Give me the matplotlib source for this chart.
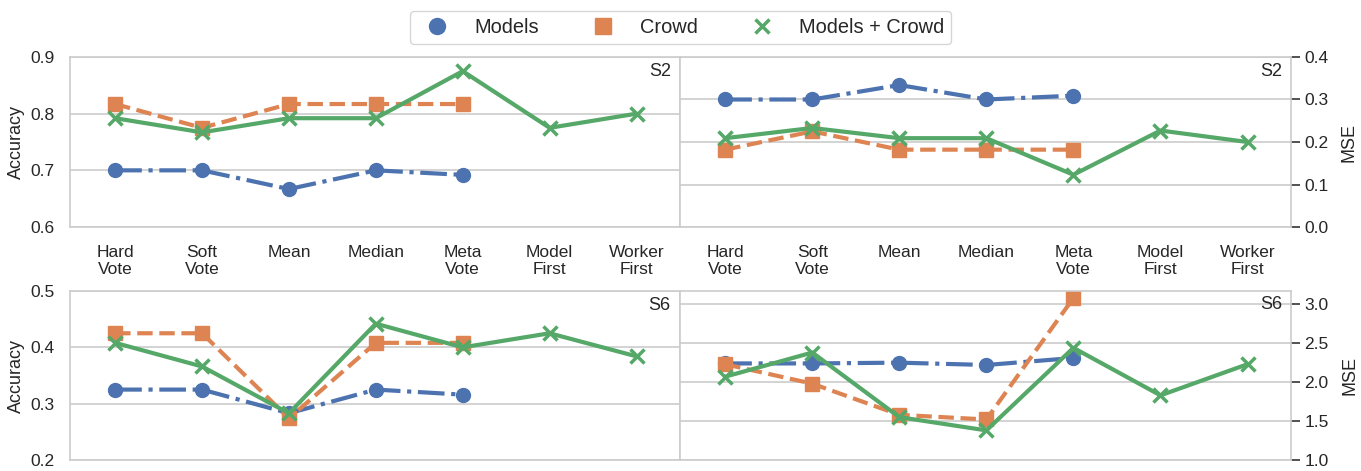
import numpy as np
import matplotlib
matplotlib.use('Agg')
import matplotlib.pyplot as plt
import seaborn as sns

sns.set_style('whitegrid')
plt.rcParams['font.family'] = ['Liberation Sans', 'DejaVu Sans']

categories = ['Hard\nVote', 'Soft\nVote', 'Mean', 'Median', 'Meta\nVote', 'Model\nFirst', 'Worker\nFirst']

# S2 accuracy
s2_acc_models = [0.700, 0.700, 0.667, 0.700, 0.692]
s2_acc_crowd = [0.817, 0.775, 0.817, 0.817, 0.817]
s2_acc_both = [0.792, 0.767, 0.792, 0.792, 0.875, 0.775, 0.800]
# S2 MSE
s2_mse_models = [0.300, 0.300, 0.334, 0.300, 0.309]
s2_mse_crowd = [0.182, 0.225, 0.182, 0.182, 0.182]
s2_mse_both = [0.209, 0.233, 0.209, 0.209, 0.123, 0.227, 0.200]
# S6 accuracy
s6_acc_models = [0.325, 0.325, 0.283, 0.325, 0.316]
s6_acc_crowd = [0.425, 0.425, 0.274, 0.408, 0.408]
s6_acc_both = [0.408, 0.366, 0.283, 0.442, 0.400, 0.425, 0.384]
# S6 MSE
s6_mse_models = [2.24, 2.24, 2.25, 2.22, 2.31]
s6_mse_crowd = [2.23, 1.98, 1.58, 1.52, 3.08]
s6_mse_both = [2.07, 2.38, 1.55, 1.38, 2.44, 1.83, 2.23]

c_models = '#4C72B0'
c_crowd = '#DD8452'
c_both = '#55A868'
grid_c = '#cccccc'

fig = plt.figure(figsize=(13.61, 4.71), dpi=100)
ax_tl = fig.add_axes([0.0514, 0.518, 0.4482, 0.361])
ax_tr = fig.add_axes([0.4996, 0.518, 0.449, 0.361])
ax_bl = fig.add_axes([0.0514, 0.0234, 0.4482, 0.3587])
ax_br = fig.add_axes([0.4996, 0.0234, 0.449, 0.3587])


def draw(ax, models, crowd, both, label, ylim, yticks, right=False, xlabels=True, lab_y=0.915):
    x5 = np.arange(len(models))
    x7 = np.arange(len(both))
    ax.plot(x5, models, color=c_models, linestyle='-.', marker='o', markersize=10, linewidth=3)
    ax.plot(x5, crowd, color=c_crowd, linestyle='--', marker='s', markersize=10, linewidth=3)
    ax.plot(x7, both, color=c_both, linestyle='-', marker='x', markersize=10,
            markeredgewidth=2.5, linewidth=3)
    ax.set_xlim(-0.52, 6.5)
    ax.set_ylim(*ylim)
    ax.set_yticks(yticks)
    ax.grid(axis='x', visible=False)
    ax.grid(axis='y', color=grid_c, linewidth=1.2)
    for s in ax.spines.values():
        s.set_color(grid_c)
        s.set_linewidth(1.2)
    ax.set_xticks(x7)
    if xlabels:
        ax.set_xticklabels(categories, fontsize=12.5)
    else:
        ax.set_xticklabels([])
    ax.tick_params(axis='x', length=0, pad=13)
    if right:
        ax.yaxis.tick_right()
        ax.yaxis.set_label_position('right')
        ax.tick_params(axis='y', right=True, length=6.5, width=1.2, color='#333333',
                       labelsize=12.5, pad=3)
        ax.set_ylabel('MSE', fontsize=13, labelpad=9)
    else:
        ax.tick_params(axis='y', length=0, labelsize=12.5, pad=11)
        ax.set_ylabel('Accuracy', fontsize=13, labelpad=4)
    ax.set_yticklabels(['%.1f' % t for t in yticks])
    ax.text(0.985, lab_y, label, transform=ax.transAxes, ha='right', va='center', fontsize=13)


draw(ax_tl, s2_acc_models, s2_acc_crowd, s2_acc_both, 'S2', (0.6, 0.9), [0.6, 0.7, 0.8, 0.9])
draw(ax_tr, s2_mse_models, s2_mse_crowd, s2_mse_both, 'S2', (0.0, 0.4), [0.0, 0.1, 0.2, 0.3, 0.4],
     right=True)
draw(ax_bl, s6_acc_models, s6_acc_crowd, s6_acc_both, 'S6', (0.2, 0.5), [0.2, 0.3, 0.4, 0.5],
     xlabels=False)
draw(ax_br, s6_mse_models, s6_mse_crowd, s6_mse_both, 'S6', (1.0, 3.17), [1.0, 1.5, 2.0, 2.5, 3.0],
     right=True, xlabels=False, lab_y=0.92)

h1 = plt.Line2D([], [], color=c_models, marker='o', linestyle='none', markersize=11.5)
h2 = plt.Line2D([], [], color=c_crowd, marker='s', linestyle='none', markersize=11.5)
h3 = plt.Line2D([], [], color=c_both, marker='x', linestyle='none', markersize=10, markeredgewidth=2.5)
fig.legend([h1, h2, h3], ['Models', 'Crowd', 'Models + Crowd'], loc='upper center',
           bbox_to_anchor=(0.5, 0.997), ncol=3, fontsize=14.4, columnspacing=2.2,
           handletextpad=0.85, frameon=True, edgecolor=grid_c, borderpad=0.35)

fig.savefig('out.png', dpi=100)
